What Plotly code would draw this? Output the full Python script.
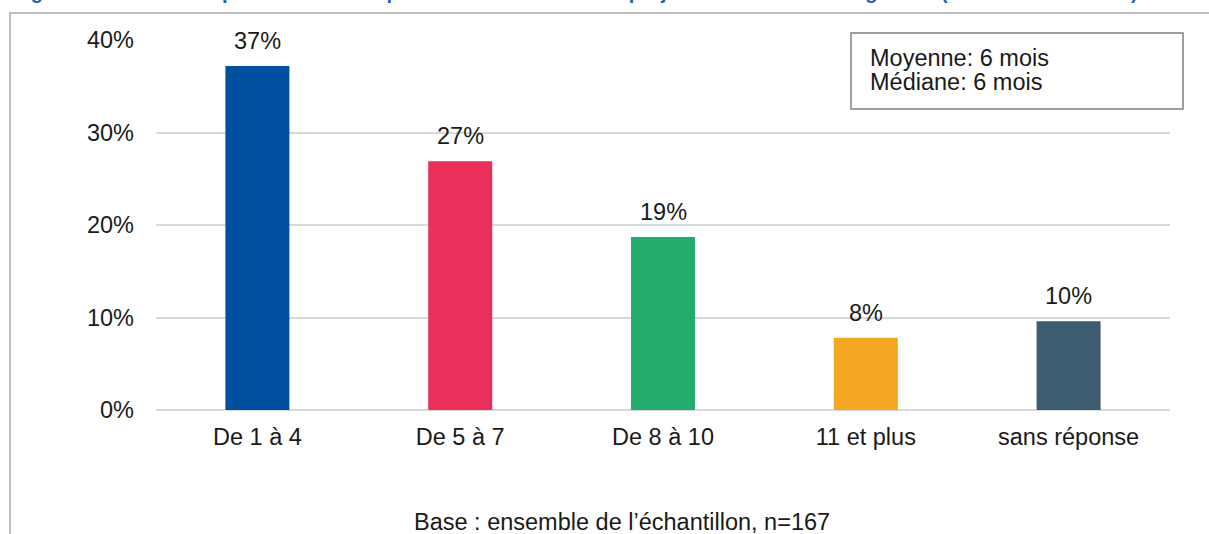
import plotly.graph_objects as go

categories = ["De 1 à 4", "De 5 à 7", "De 8 à 10", "11 et plus", "sans réponse"]
values = [0.372, 0.269, 0.187, 0.078, 0.096]
labels = ["37%", "27%", "19%", "8%", "10%"]
colors = ["#0050A0", "#E8305A", "#24AB6E", "#F5A623", "#3E5C70"]
y_ticks = [0, 0.1, 0.2, 0.3, 0.4]
y_tick_labels = ["0%", "10%", "20%", "30%", "40%"]
title_text = ("Figure 5 - Durée de la période de conception et de réalisation du projet "
              "de transformation globale (en nombre de mois)")
stats_lines = ["Moyenne: 6 mois", "Médiane: 6 mois"]
footnote = "Base : ensemble de l’échantillon, n=167"

FONT = "Liberation Sans, Arial, sans-serif"
FS = 23.5
TXT = "#1a1a1a"

W, H = 1209, 534
L, R, T, B = 156, 39, 40, 124
pw, ph = W - L - R, H - T - B

def px(x):
    return (x - L) / pw

def py(y):
    return (H - B - y) / ph

fig = go.Figure()
fig.add_trace(go.Bar(
    x=categories, y=values, marker=dict(color=colors, line=dict(width=0)),
    width=0.3156, hoverinfo="skip", cliponaxis=False,
))

# value labels above bars
for c, v, lab in zip(categories, values, labels):
    fig.add_annotation(x=c, y=v, xref="x", yref="y", text=lab, showarrow=False,
                       yanchor="middle", yshift=25,
                       font=dict(family=FONT, size=FS, color=TXT))

fig.update_layout(
    width=W, height=H,
    margin=dict(l=L, r=R, t=T, b=B, pad=0),
    paper_bgcolor="white", plot_bgcolor="white",
    showlegend=False,
    font=dict(family=FONT, size=FS, color=TXT),
    xaxis=dict(showgrid=False, showline=False, zeroline=False,
               ticks="", ticklabelstandoff=10,
               tickfont=dict(family=FONT, size=FS, color=TXT)),
    yaxis=dict(range=[0, 0.4], tickvals=y_ticks, ticktext=y_tick_labels,
               showgrid=True, gridcolor="#d9d9d9", gridwidth=2,
               zeroline=True, zerolinecolor="#d9d9d9", zerolinewidth=2,
               showline=False, ticks="", ticklabelstandoff=21,
               tickfont=dict(family=FONT, size=FS, color=TXT)),
)

# outer chart frame
fig.add_shape(type="rect", xref="paper", yref="paper",
              x0=px(10), x1=px(1300), y0=py(700), y1=py(13),
              line=dict(color="#bfbfbf", width=2), fillcolor="rgba(0,0,0,0)")

# stats box
fig.add_shape(type="rect", xref="paper", yref="paper",
              x0=px(851), x1=px(1183), y0=py(109), y1=py(33),
              line=dict(color="#7f7f7f", width=1.5), fillcolor="white")
for i, line in enumerate(stats_lines):
    fig.add_annotation(xref="paper", yref="paper", x=px(868), y=py(58 + 24 * i),
                       xanchor="left", yanchor="middle", align="left",
                       text=line, showarrow=False,
                       font=dict(family=FONT, size=FS, color=TXT))

# footnote
fig.add_annotation(xref="paper", yref="paper", x=px(622), y=py(522),
                   xanchor="center", yanchor="middle",
                   text=footnote, showarrow=False,
                   font=dict(family=FONT, size=FS, color=TXT))

# clipped title at top
fig.add_annotation(xref="paper", yref="paper", x=px(11), y=py(-8),
                   xanchor="left", yanchor="middle", align="left",
                   text="<b>" + title_text + "</b>", showarrow=False,
                   font=dict(family=FONT, size=20, color="#2563B8"))

fig.write_html("out.html", config={"displayModeBar": False},
               post_script="document.body.style.margin='0';")
